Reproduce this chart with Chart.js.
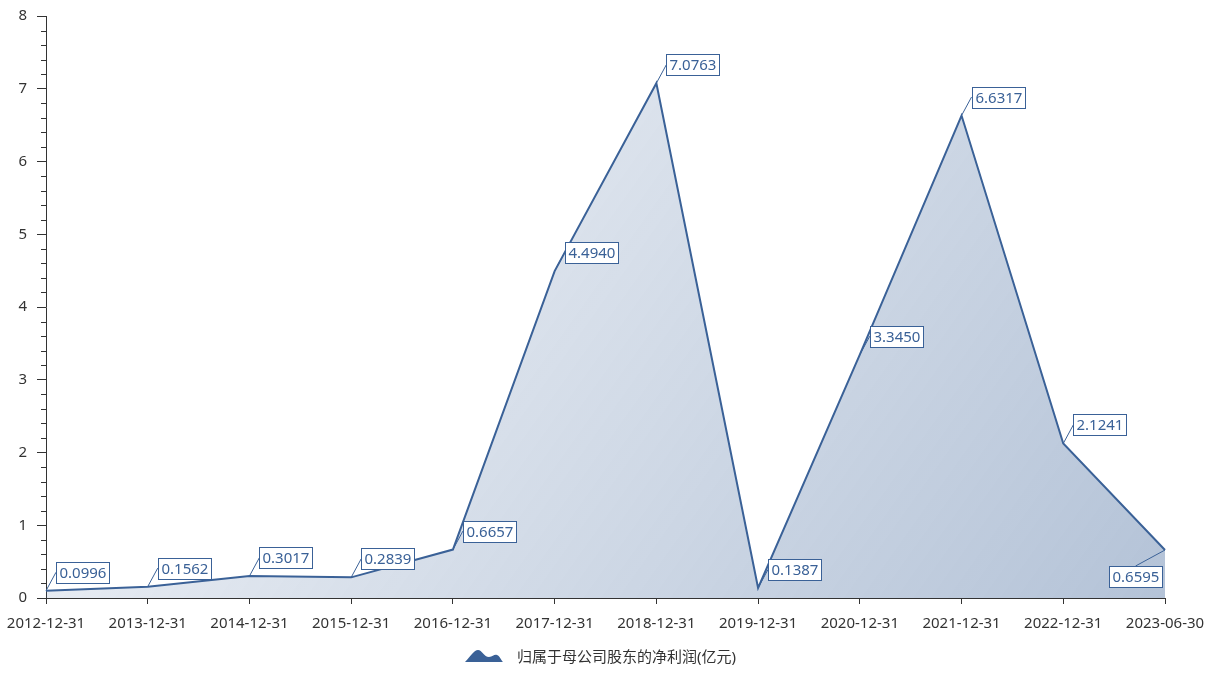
<!DOCTYPE html>
<html lang="zh">
<head>
    <meta charset="UTF-8">
    <title>归属于母公司股东的净利润</title>
    <script src="https://cdn.jsdelivr.net/npm/chart.js"></script>
    <style>
        html, body { margin: 0; padding: 0; background: #fff; }
        #wrap { width: 1218px; height: 673px; position: relative; }
    </style>
</head>
<body>
    <div id="wrap"><canvas id="profitChart" width="1218" height="673"></canvas></div>

    <script>
        const dates = ["2012-12-31", "2013-12-31", "2014-12-31", "2015-12-31", "2016-12-31", "2017-12-31",
                       "2018-12-31", "2019-12-31", "2020-12-31", "2021-12-31", "2022-12-31", "2023-06-30"];
        const netProfit = [0.0996, 0.1562, 0.3017, 0.2839, 0.6657, 4.4940, 7.0763, 0.1387, 3.3450, 6.6317, 2.1241, 0.6595];
        const yTicks = [0, 1, 2, 3, 4, 5, 6, 7, 8];
        const seriesName = "归属于母公司股东的净利润(亿元)";

        const lineColor = "#3a6197";
        const textColor = "#333";
        const font = "'Noto Sans', 'Noto Sans CJK SC', sans-serif";

        // minor ticks on the y axis + boxed value labels + legend
        const extras = {
            id: "extras",
            afterDraw(chart) {
                const c = chart.ctx;
                const y = chart.scales.y;
                const area = chart.chartArea;

                // minor ticks
                c.save();
                c.strokeStyle = textColor;
                c.lineWidth = 1;
                for (let i = 0; i < yTicks.length - 1; i++) {
                    for (let k = 1; k < 5; k++) {
                        const py = Math.round(y.getPixelForValue(yTicks[i] + k / 5)) + 0.5;
                        c.beginPath();
                        c.moveTo(area.left - 5, py);
                        c.lineTo(area.left, py);
                        c.stroke();
                    }
                }
                c.restore();

                // value labels
                const meta = chart.getDatasetMeta(0);
                c.save();
                c.font = "15px " + font;
                c.textBaseline = "middle";
                meta.data.forEach((pt, i) => {
                    const txt = netProfit[i].toFixed(4);
                    const w = c.measureText(txt).width + 6;
                    const h = 21;
                    let bx, by, lx, ly;
                    if (i === netProfit.length - 1) {
                        bx = pt.x - 3 - w;
                        by = pt.y + 16;
                        lx = bx + w / 2;
                        ly = by;
                    } else {
                        bx = pt.x + 10;
                        by = pt.y - 8 - h;
                        lx = bx;
                        ly = by + h / 2;
                    }
                    c.strokeStyle = lineColor;
                    c.lineWidth = 1;
                    c.beginPath();
                    c.moveTo(pt.x, pt.y);
                    c.lineTo(lx, ly);
                    c.stroke();
                    c.fillStyle = "#fff";
                    c.fillRect(Math.round(bx) + 0.5, Math.round(by) + 0.5, Math.round(w), h);
                    c.strokeRect(Math.round(bx) + 0.5, Math.round(by) + 0.5, Math.round(w), h);
                    c.fillStyle = lineColor;
                    c.textAlign = "left";
                    c.fillText(txt, Math.round(bx) + 3.5, Math.round(by) + h / 2 + 1);
                });
                c.restore();

                // legend
                c.save();
                const ix = 465, iy = 662;
                c.fillStyle = lineColor;
                c.beginPath();
                c.moveTo(ix, iy);
                c.bezierCurveTo(ix + 6, iy - 6, ix + 9, iy - 12, ix + 13, iy - 12);
                c.bezierCurveTo(ix + 17, iy - 12, ix + 19, iy - 5, ix + 24, iy - 5);
                c.bezierCurveTo(ix + 28, iy - 5, ix + 29, iy - 8, ix + 32, iy - 7);
                c.bezierCurveTo(ix + 35, iy - 6, ix + 36, iy - 2, ix + 38, iy);
                c.closePath();
                c.fill();
                c.fillStyle = textColor;
                c.font = "15px " + font;
                c.textBaseline = "middle";
                c.textAlign = "left";
                c.fillText(seriesName, 517, 658);
                c.restore();
            }
        };

        const ctx = document.getElementById("profitChart").getContext("2d");
        new Chart(ctx, {
            type: "line",
            data: {
                labels: dates,
                datasets: [{
                    label: seriesName,
                    data: netProfit,
                    borderColor: lineColor,
                    borderWidth: 2,
                    pointRadius: 0,
                    tension: 0,
                    fill: "origin",
                    backgroundColor: (context) => {
                        const a = context.chart.chartArea;
                        if (!a) return "rgba(58,97,151,0.2)";
                        const g = context.chart.ctx.createLinearGradient(a.left + 300, a.top, a.right, a.bottom);
                        g.addColorStop(0, "rgba(58,97,151,0.1)");
                        g.addColorStop(1, "rgba(58,97,151,0.38)");
                        return g;
                    }
                }]
            },
            options: {
                responsive: false,
                animation: false,
                layout: { padding: { top: 16, right: 53, bottom: 40, left: 0 } },
                plugins: {
                    legend: { display: false },
                    tooltip: { enabled: false }
                },
                scales: {
                    x: {
                        offset: false,
                        grid: { drawOnChartArea: false, tickLength: 6, color: textColor },
                        border: { color: textColor },
                        ticks: { color: textColor, font: { size: 15, family: font }, maxRotation: 0, autoSkip: false, padding: 11 },
                        afterFit(s) { s.height = 35; s.paddingLeft = 0; s.paddingRight = 0; }
                    },
                    y: {
                        min: 0,
                        max: 8,
                        grid: { drawOnChartArea: false, tickLength: 9, color: textColor },
                        border: { color: textColor },
                        ticks: { stepSize: 1, color: textColor, font: { size: 15, family: font }, padding: 10 },
                        afterFit(s) { s.width = 46; s.paddingTop = 0; s.paddingBottom = 0; }
                    }
                }
            },
            plugins: [extras]
        });
    </script>
</body>
</html>
